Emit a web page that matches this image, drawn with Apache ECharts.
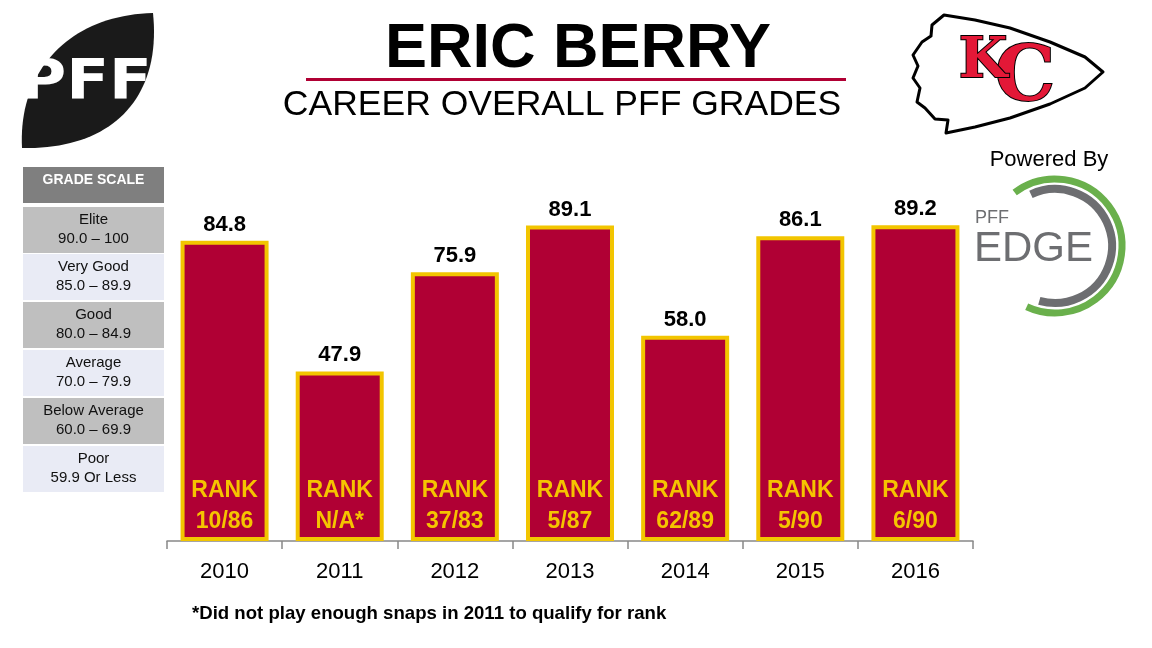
<!DOCTYPE html>
<html>
<head>
<meta charset="utf-8">
<script src="https://cdn.jsdelivr.net/npm/echarts@6/dist/echarts.min.js"></script>
<style>html,body{margin:0;padding:0;background:#fff}#c{width:1152px;height:648px}</style>
</head>
<body>
<div id="c"></div>
<script>
const years = ['2010', '2011', '2012', '2013', '2014', '2015', '2016'];
const grades = [84.8, 47.9, 75.9, 89.1, 58.0, 86.1, 89.2];
const ranks = ['10/86', 'N/A*', '37/83', '5/87', '62/89', '5/90', '6/90'];
const scaleNames = ['Elite', 'Very Good', 'Good', 'Average', 'Below Average', 'Poor'];
const scaleRanges = ['90.0 \u2013 100', '85.0 \u2013 89.9', '80.0 \u2013 84.9', '70.0 \u2013 79.9', '60.0 \u2013 69.9', '59.9 Or Less'];

const FONT = 'Arial, "Liberation Sans", sans-serif';
const chart = echarts.init(document.getElementById('c'), null, {renderer: 'canvas'});

function bez(p0, p1, p2, p3, n) {
  const pts = [];
  for (let i = 0; i <= n; i++) {
    const t = i / n, u = 1 - t;
    pts.push([
      u*u*u*p0[0] + 3*u*u*t*p1[0] + 3*u*t*t*p2[0] + t*t*t*p3[0],
      u*u*u*p0[1] + 3*u*u*t*p1[1] + 3*u*t*t*p2[1] + t*t*t*p3[1]
    ]);
  }
  return pts;
}

const graphics = [];
// Title
graphics.push({type: 'text', x: 578, y: 50, style: {text: 'ERIC BERRY', font: 'bold 63px ' + FONT, fill: '#000', align: 'center', verticalAlign: 'middle'}});
graphics.push({type: 'rect', shape: {x: 306, y: 78, width: 540, height: 3}, style: {fill: '#B00034'}});
graphics.push({type: 'text', x: 562, y: 105, style: {text: 'CAREER OVERALL PFF GRADES', font: '35.5px ' + FONT, fill: '#000', align: 'center', verticalAlign: 'middle'}});

// Grade scale table
const tx = 23, tw = 141;
graphics.push({type: 'rect', shape: {x: tx, y: 167, width: tw, height: 36}, style: {fill: '#7F7F7F'}});
graphics.push({type: 'text', x: tx + tw / 2, y: 180, style: {text: 'GRADE SCALE', font: 'bold 14px ' + FONT, fill: '#fff', align: 'center', verticalAlign: 'middle'}});
const rowTops = [207, 254, 302, 350, 398, 446];
scaleNames.forEach((n, i) => {
  const top = rowTops[i];
  graphics.push({type: 'rect', shape: {x: tx, y: top, width: tw, height: 46}, style: {fill: i % 2 === 0 ? '#BFBFBF' : '#E9EBF5'}});
  graphics.push({type: 'text', x: tx + tw / 2, y: top + 13, style: {text: n, font: '15px ' + FONT, fill: '#111', align: 'center', verticalAlign: 'middle'}});
  graphics.push({type: 'text', x: tx + tw / 2, y: top + 32, style: {text: scaleRanges[i], font: '15px ' + FONT, fill: '#111', align: 'center', verticalAlign: 'middle'}});
});

// PFF logo
const leaf = bez([153, 13], [70, 15], [18, 70], [22, 148], 40).concat(bez([22, 148], [110, 150], [162, 100], [153, 13], 40).slice(1));
graphics.push({type: 'polygon', shape: {points: leaf}, style: {fill: '#1a1a1a'}});
graphics.push({type: 'text', x: 86, y: 83, scaleX: 1.12, style: {text: 'PFF', font: 'bold 56px "DejaVu Sans", sans-serif', fill: '#fff', align: 'center', verticalAlign: 'middle'}});

// KC arrowhead logo
graphics.push({type: 'polygon', shape: {points: [[944, 15], [975, 20], [1010, 28], [1050, 42], [1085, 57], [1103, 72], [1085, 88], [1050, 104], [1010, 118], [975, 127], [946, 133], [948, 120], [935, 119], [925, 108], [917, 102], [920, 88], [913, 78], [918, 66], [913, 55], [922, 42], [931, 36], [932, 25]]}, style: {stroke: '#000', lineWidth: 3, fill: '#fff', lineJoin: 'round'}});
graphics.push({type: 'text', x: 1025, y: 80, style: {text: 'C', font: 'bold 76px "DejaVu Serif", serif', fill: '#E31837', stroke: '#000', lineWidth: 2, align: 'center', verticalAlign: 'middle'}});
graphics.push({type: 'text', x: 983, y: 62, style: {text: 'K', font: 'bold 56px "DejaVu Serif", serif', fill: '#E31837', stroke: '#000', lineWidth: 2, align: 'center', verticalAlign: 'middle'}});

// Powered by PFF EDGE
graphics.push({type: 'text', x: 1049, y: 160, style: {text: 'Powered By', font: '22px ' + FONT, fill: '#000', align: 'center', verticalAlign: 'middle'}});
graphics.push({type: 'arc', shape: {cx: 1055, cy: 246, r: 67, startAngle: -127 * Math.PI / 180, endAngle: 115 * Math.PI / 180, clockwise: true}, style: {stroke: '#6AB04C', lineWidth: 7, fill: null}});
graphics.push({type: 'arc', shape: {cx: 1055, cy: 246, r: 57, startAngle: -115 * Math.PI / 180, endAngle: 106 * Math.PI / 180, clockwise: true}, style: {stroke: '#6D6E71', lineWidth: 8, fill: null}});
graphics.push({type: 'text', x: 975, y: 218, style: {text: 'PFF', font: '18px ' + FONT, fill: '#6D6E71', align: 'left', verticalAlign: 'middle'}});
graphics.push({type: 'text', x: 974, y: 249, style: {text: 'EDGE', font: '42px ' + FONT, fill: '#6D6E71', align: 'left', verticalAlign: 'middle'}});

// Footnote
graphics.push({type: 'text', x: 192, y: 614, style: {text: '*Did not play enough snaps in 2011 to qualify for rank', font: 'bold 18.6px ' + FONT, fill: '#000', align: 'left', verticalAlign: 'middle'}});

chart.setOption({
  animation: false,
  backgroundColor: '#fff',
  grid: {left: 167, right: 179, top: 187, bottom: 107},
  xAxis: {
    type: 'category', data: years,
    axisLine: {lineStyle: {color: '#888', width: 1.5}},
    axisTick: {show: true, length: 8, lineStyle: {color: '#888', width: 1.5}},
    axisLabel: {color: '#000', fontSize: 22, fontFamily: FONT, margin: 20}
  },
  yAxis: {type: 'value', min: 0, max: 100, show: false, splitLine: {show: false}},
  series: [
    {
      type: 'bar', data: grades, barWidth: 88, barGap: '-100%',
      itemStyle: {color: '#B00034', borderColor: '#F2C500', borderWidth: 4},
      label: {show: true, position: 'top', distance: 5, color: '#000', fontWeight: 'bold', fontSize: 22, fontFamily: FONT,
        formatter: p => p.value.toFixed(1)}
    },
    {
      type: 'bar', data: grades, barWidth: 88, barGap: '-100%', z: 3,
      itemStyle: {color: 'rgba(0,0,0,0)'},
      label: {show: true, position: 'insideBottom', distance: 4, color: '#F5C400', fontWeight: 'bold', fontSize: 23, fontFamily: FONT, lineHeight: 31,
        formatter: p => 'RANK\n' + ranks[p.dataIndex]}
    }
  ],
  graphic: graphics
});
</script>
</body>
</html>
